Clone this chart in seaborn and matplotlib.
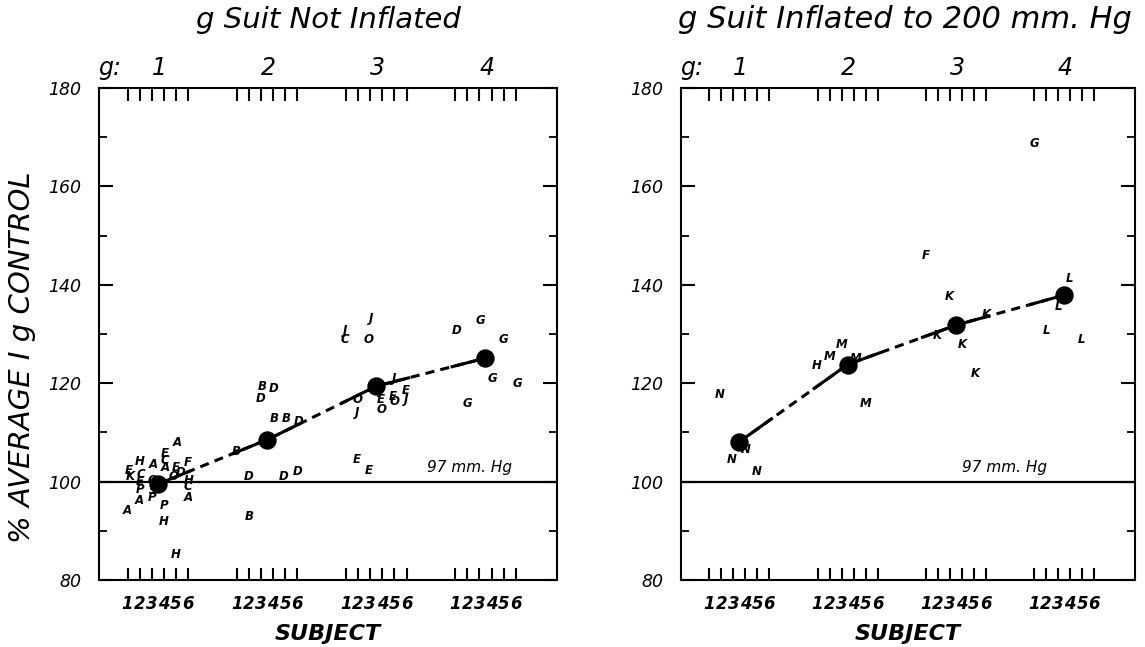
import numpy as np
import pandas as pd
import matplotlib
matplotlib.use("Agg")
import matplotlib.pyplot as plt
import seaborn as sns

# ---------------- data ----------------
titles = ["g Suit Not Inflated", "g Suit Inflated to 200 mm. Hg"]
g_levels = [1, 2, 3, 4]
subjects = [1, 2, 3, 4, 5, 6]
y_ticks = [80, 100, 120, 140, 160, 180]
ylabel = "% AVERAGE I g CONTROL"
xlabel = "SUBJECT"
ref_label = "97 mm. Hg"

# left panel (g suit not inflated): individual values
left_letter = ["E", "K", "A", "H", "C", "E", "P", "A", "A", "O", "S", "P", "E", "C", "A",
               "P", "H", "A", "E", "O", "D", "H", "F", "H", "C", "A",
               "B", "D", "D", "B", "B", "D", "B", "D", "D", "D", "B",
               "J", "J", "C", "O", "J", "O", "J", "J", "E", "O", "E", "O", "E", "J", "E", "E",
               "D", "G", "G", "G", "G", "G"]
left_g = [1] * 26 + [2] * 11 + [3] * 16 + [4] * 6
left_col = [1.1, 1.2, 1.0, 2.0, 2.1, 2.0, 2.0, 2.0, 3.1, 3.1, 3.1, 3.0, 4.1, 4.1, 4.1,
            4.0, 4.0, 5.1, 5.0, 4.8, 5.4, 5.0, 6.0, 6.0, 6.0, 6.0,
            3.07, 3.0, 4.06, 4.1, 5.07, 6.1, 0.94, 2.0, 4.9, 6.0, 2.0,
            3.07, 0.94, 0.94, 2.87, 5.0, 1.96, 1.9, 3.9, 3.9, 3.9, 4.85, 5.0, 5.9, 6.0, 1.85, 2.9,
            1.1, 3.1, 5.0, 4.1, 6.1, 2.0]
left_val = [102.2, 101.1, 94.1, 104.0, 101.5, 100.1, 98.3, 96.2, 103.5, 100.3, 98.2, 96.8,
            105.8, 104.3, 102.8, 95.2, 91.8, 107.9, 102.8, 101.0, 101.8, 85.1, 103.8, 100.3,
            99.0, 96.8,
            119.4, 116.9, 119.0, 112.9, 112.9, 112.2, 106.1, 101.0, 101.0, 102.0, 93.0,
            133.2, 130.7, 128.8, 128.8, 121.0, 116.6, 114.0, 118.6, 116.6, 114.6, 117.3,
            116.2, 118.5, 116.6, 104.5, 102.3,
            130.8, 132.7, 128.9, 120.9, 120.0, 115.8]
left_means = [99.5, 108.5, 119.4, 125.1]

# right panel (g suit inflated to 200 mm Hg)
right_letter = ["N", "N", "N", "N",
                "H", "M", "M", "M", "M",
                "F", "K", "K", "K", "K", "K",
                "G", "L", "L", "L", "L"]
right_g = [1] * 4 + [2] * 5 + [3] * 6 + [4] * 5
right_col = [1.83, 4.0, 2.9, 4.9,
             0.94, 1.97, 3.0, 4.15, 4.96,
             0.98, 2.97, 2.0, 4.07, 6.0, 5.1,
             1.0, 3.96, 3.0, 2.05, 4.96]
right_val = [117.8, 106.6, 104.5, 102.0,
             123.7, 125.5, 127.9, 125.1, 115.9,
             145.9, 137.7, 129.6, 127.8, 133.9, 121.9,
             168.8, 141.3, 135.5, 130.8, 128.8]
right_means = [108.1, 123.8, 131.8, 137.9]

GROUP_STEP = 9
MEAN_COL = 3.5

# ---------------- style ----------------
sns.set_style("ticks")
plt.rcParams["font.family"] = ["DejaVu Sans"]
plt.rcParams["axes.linewidth"] = 1.5
for key in ["text.color", "axes.labelcolor", "xtick.color", "ytick.color", "axes.edgecolor"]:
    plt.rcParams[key] = "black"

fig = plt.figure(figsize=(11.45, 6.47), dpi=100)
ax_l = fig.add_axes([0.0865, 0.1035, 0.400, 0.7605])
ax_r = fig.add_axes([0.5948, 0.1035, 0.3965, 0.7605])

panels = [
    (ax_l, left_letter, left_g, left_col, left_val, left_means, 32.7),
    (ax_r, right_letter, right_g, right_col, right_val, right_means, 29.1),
]

for i, (ax, let, gg, cc, vv, means, ref_x) in enumerate(panels):
    df = pd.DataFrame({"letter": let, "g": gg, "col": cc, "val": vv})
    df["x"] = (df["g"] - 1) * GROUP_STEP + df["col"]
    mdf = pd.DataFrame({"g": g_levels, "mean": means})
    mdf["x"] = (mdf["g"] - 1) * GROUP_STEP + MEAN_COL

    ax.set_xlim(-1.35, 36.4)
    ax.set_ylim(80, 180)

    # reference line at 100
    ax.axhline(100, color="black", lw=1.6, zorder=1)
    ax.text(ref_x, 102.9, ref_label, ha="right", va="center", fontsize=11,
            style="italic", color="black")

    # individual letters
    for _, r in df.iterrows():
        ax.text(r["x"], r["val"], r["letter"], ha="center", va="center",
                fontsize=8.5, fontweight="bold", style="italic", color="black", zorder=3)

    # mean line: dashed between groups, solid within each group span
    xs = np.linspace(mdf["x"].iloc[0], mdf["x"].iloc[-1], 800)
    ys = np.interp(xs, mdf["x"], mdf["mean"])
    rel = (xs - 1) % GROUP_STEP
    solid = (rel <= 5.3) | (rel >= GROUP_STEP - 0.4)
    ax.plot(xs, ys, color="black", lw=2.2, ls=(0, (3, 2)), zorder=2)
    ax.plot(xs, np.where(solid, ys, np.nan), color="black", lw=2.2, zorder=2,
            solid_capstyle="butt")
    sns.scatterplot(data=mdf, x="x", y="mean", ax=ax, color="black", s=150,
                    edgecolor="black", zorder=4, legend=False)

    # x ticks: subjects within each g group
    xt = [(g - 1) * GROUP_STEP + s for g in g_levels for s in subjects]
    xl = [str(s) for g in g_levels for s in subjects]
    ax.set_xticks(xt)
    ax.set_xticklabels(xl, fontsize=12, fontweight="bold", style="italic")
    ax.tick_params(axis="x", direction="in", length=9, width=1.5, top=True,
                   bottom=True, pad=11)

    # y ticks
    ax.set_yticks(y_ticks)
    ax.set_yticks(np.arange(90, 180, 20), minor=True)
    ax.set_yticklabels([str(v) for v in y_ticks], fontsize=12.5, style="italic")
    ax.tick_params(axis="y", which="major", direction="in", length=10, width=1.5,
                   left=True, right=True, pad=13)
    ax.tick_params(axis="y", which="minor", direction="in", length=6, width=1.3,
                   left=True, right=True)

    ax.set_xlabel(xlabel, fontsize=16, fontweight="bold", style="italic", labelpad=8)
    ax.set_ylabel("")
    for sp in ax.spines.values():
        sp.set_visible(True)
        sp.set_linewidth(1.5)

    # top g labels
    trans = ax.get_xaxis_transform()
    ax.text(-0.5, 1.04, "g:", transform=trans, ha="center", va="center",
            fontsize=17, style="italic")
    for g in g_levels:
        ax.text((g - 1) * GROUP_STEP + 3.6, 1.04, str(g), transform=trans,
                ha="center", va="center", fontsize=17, style="italic")

fig.text(328 / 1145, 1 - 20 / 647, titles[0], ha="center", va="center",
         fontsize=21, style="italic")
fig.text(905 / 1145, 1 - 20 / 647, titles[1], ha="center", va="center",
         fontsize=22, style="italic")

fig.text(22 / 1145, 1 - 357 / 647, ylabel, rotation=90, ha="center", va="center",
         fontsize=21, style="italic")

fig.savefig("out.png", dpi=100)
